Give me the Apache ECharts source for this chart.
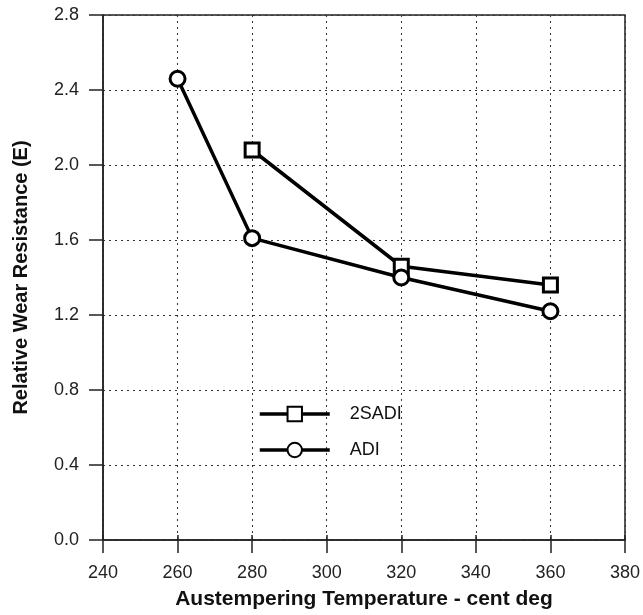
<!DOCTYPE html>
<html><head><meta charset="utf-8">
<script src="https://cdn.jsdelivr.net/npm/echarts@6/dist/echarts.min.js"></script>
<style>html,body{margin:0;padding:0;background:#fff}#c{width:643px;height:615px}</style>
</head><body><div id="c"></div>
<script>
const xTicks = [240, 260, 280, 300, 320, 340, 360, 380];
const yTicks = [0.0, 0.4, 0.8, 1.2, 1.6, 2.0, 2.4, 2.8];
const adiX = [260, 280, 320, 360];
const adiY = [2.46, 1.61, 1.40, 1.22];
const sadiX = [280, 320, 360];
const sadiY = [2.08, 1.46, 1.36];

const chart = echarts.init(document.getElementById('c'), null, {renderer: 'canvas'});
const font = '"Liberation Sans", Arial, sans-serif';
const split = {show: true, lineStyle: {color: '#333', type: [2, 4], width: 1}};
chart.setOption({
  animation: false,
  backgroundColor: '#fff',
  grid: {left: 103, right: 14, top: 15, bottom: 75, show: true, borderColor: '#222', borderWidth: 1.5, backgroundColor: 'transparent'},
  xAxis: [{
    type: 'value', min: xTicks[0], max: xTicks[xTicks.length - 1], interval: 20, position: 'bottom',
    name: 'Austempering Temperature - cent deg', nameLocation: 'middle', nameGap: 49,
    nameTextStyle: {fontFamily: font, fontWeight: 'bold', fontSize: 21, color: '#111'},
    axisLine: {show: true, onZero: false, lineStyle: {color: '#222', width: 1.5}},
    axisTick: {show: true, inside: false, length: 13, lineStyle: {color: '#222', width: 1.5}},
    axisLabel: {fontFamily: font, fontSize: 18, color: '#222', margin: 24, formatter: v => String(v)},
    splitLine: split
  }, {
    type: 'value', min: xTicks[0], max: xTicks[xTicks.length - 1], interval: 20, position: 'bottom', offset: 0,
    axisLine: {show: false, onZero: false},
    axisTick: {show: true, inside: true, length: 5, lineStyle: {color: '#222', width: 1.5}},
    axisLabel: {show: false}, splitLine: {show: false}
  }],
  yAxis: {
    type: 'value', min: yTicks[0], max: yTicks[yTicks.length - 1], interval: 0.4,
    name: 'Relative Wear Resistance (E)', nameLocation: 'middle', nameGap: 72,
    nameTextStyle: {fontFamily: font, fontWeight: 'bold', fontSize: 20, color: '#111'},
    axisLine: {lineStyle: {color: '#222', width: 1.5}},
    axisTick: {show: true, length: 14, lineStyle: {color: '#222', width: 1.5}},
    axisLabel: {fontFamily: font, fontSize: 18, color: '#222', margin: 24, formatter: v => v.toFixed(1)},
    splitLine: split
  },
  legend: {
    orient: 'vertical', left: 253, top: 400, itemWidth: 70, itemHeight: 18, itemGap: 18,
    textStyle: {fontFamily: font, fontSize: 18, lineHeight: 18, color: '#111', padding: [0, 0, 0, 15]},
    lineStyle: {width: 3.5, color: '#000'},
    data: ['2SADI', 'ADI']
  },
  series: [
    {name: '2SADI', type: 'line', data: sadiX.map((x, i) => [x, sadiY[i]]),
     symbol: 'rect', symbolSize: 14, showAllSymbol: true,
     lineStyle: {color: '#000', width: 3.5}, itemStyle: {color: '#fff', borderColor: '#000', borderWidth: 3}},
    {name: 'ADI', type: 'line', data: adiX.map((x, i) => [x, adiY[i]]),
     symbol: 'circle', symbolSize: 15, showAllSymbol: true,
     lineStyle: {color: '#000', width: 3.5}, itemStyle: {color: '#fff', borderColor: '#000', borderWidth: 3}}
  ]
});
</script></body></html>
